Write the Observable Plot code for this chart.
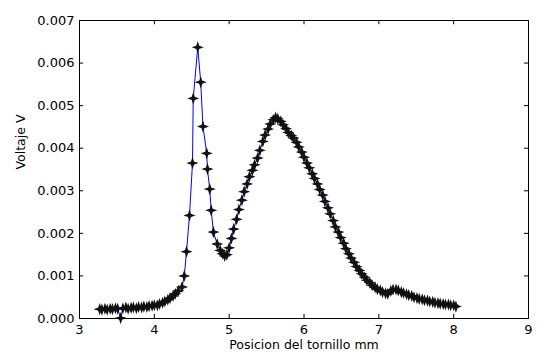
<!DOCTYPE html>
<html>
<head>
<meta charset="utf-8">
<script src="https://cdn.jsdelivr.net/npm/d3@7"></script>
<script src="https://cdn.jsdelivr.net/npm/@observablehq/plot@0.6"></script>
<style>
  html, body { margin: 0; padding: 0; background: #fff; }
  #chart svg { display: block; }
</style>
</head>
<body>
<div id="chart"></div>
<script>
const posicion = [
  3.27,3.30,3.34,3.37,3.41,3.44,3.48,3.51,3.55,3.58,
  3.62,3.65,3.69,3.72,3.76,3.79,3.83,3.86,3.90,3.93,
  3.97,4.00,4.04,4.07,4.11,4.14,4.18,4.21,4.25,4.28,
  4.32,4.37,4.40,4.43,4.47,4.51,4.52,4.58,4.62,4.65,
  4.70,4.71,4.74,4.76,4.79,4.84,4.88,4.91,4.94,4.97,
  5.00,5.03,5.06,5.10,5.13,5.17,5.20,5.24,5.27,5.31,
  5.34,5.38,5.41,5.45,5.48,5.52,5.55,5.59,5.62,5.65,
  5.69,5.72,5.76,5.79,5.83,5.86,5.90,5.93,5.97,6.00,
  6.04,6.07,6.11,6.14,6.18,6.21,6.25,6.28,6.32,6.35,
  6.39,6.42,6.46,6.49,6.53,6.56,6.60,6.63,6.67,6.70,
  6.74,6.77,6.81,6.84,6.88,6.91,6.95,6.98,7.02,7.05,
  7.09,7.12,7.16,7.19,7.23,7.26,7.30,7.33,7.37,7.40,
  7.44,7.47,7.51,7.54,7.58,7.61,7.65,7.68,7.72,7.75,
  7.79,7.82,7.86,7.89,7.93,7.96,8.00,8.03
];
const voltaje = [
  0.00022,0.00021,0.00023,0.00021,0.00023,0.00022,0.00024,0.00023,0.00001,0.00024,
  0.00026,0.00023,0.00025,0.00026,0.00024,0.00027,0.00026,0.00028,0.00027,0.00029,
  0.00030,0.00031,0.00031,0.00034,0.00037,0.00040,0.00044,0.00048,0.00053,0.00058,
  0.00065,0.00074,0.00100,0.00157,0.00242,0.00365,0.00517,0.00637,0.00555,0.00451,
  0.00388,0.00351,0.00304,0.00254,0.00203,0.00175,0.00160,0.00152,0.00147,0.00150,
  0.00166,0.00188,0.00210,0.00233,0.00256,0.00278,0.00298,0.00316,0.00333,0.00348,
  0.00361,0.00377,0.00395,0.00416,0.00431,0.00445,0.00457,0.00467,0.00472,0.00469,
  0.00463,0.00455,0.00446,0.00437,0.00430,0.00424,0.00414,0.00403,0.00391,0.00379,
  0.00365,0.00354,0.00340,0.00329,0.00316,0.00303,0.00290,0.00275,0.00260,0.00246,
  0.00230,0.00215,0.00203,0.00190,0.00177,0.00164,0.00152,0.00142,0.00132,0.00122,
  0.00113,0.00105,0.00097,0.00090,0.00084,0.00078,0.00073,0.00069,0.00066,0.00062,
  0.00059,0.00058,0.00065,0.00068,0.00068,0.00066,0.00062,0.00060,0.00057,0.00055,
  0.00053,0.00050,0.00048,0.00046,0.00045,0.00043,0.00042,0.00040,0.00039,0.00037,
  0.00036,0.00035,0.00034,0.00033,0.00033,0.00031,0.00031,0.00028
];
const xTicks = [3, 4, 5, 6, 7, 8, 9];
const yTicks = [0, 0.001, 0.002, 0.003, 0.004, 0.005, 0.006, 0.007];
const xLabel = "Posicion del tornillo mm";
const yLabel = "Voltaje V";

const data = posicion.map((p, i) => ({p, v: voltaje[i]}));
const font = "DejaVu Sans, sans-serif";

// 4-pointed sparkle, as the low-res star markers appear
const sparkle = {
  draw(context, size) {
    const r = Math.sqrt(size / Math.PI);
    const R = r * 1.25, k = r * 0.32;
    context.moveTo(0, -R);
    context.lineTo(k, -k);
    context.lineTo(R, 0);
    context.lineTo(k, k);
    context.lineTo(0, R);
    context.lineTo(-k, k);
    context.lineTo(-R, 0);
    context.lineTo(-k, -k);
    context.closePath();
  }
};

const chart = Plot.plot({
  width: 547,
  height: 356,
  marginLeft: 79,
  marginRight: 19,
  marginTop: 20,
  marginBottom: 38,
  style: {fontFamily: font, fontSize: "12.5px", background: "#fff", color: "#000"},
  x: {domain: [3, 9]},
  y: {domain: [0, 0.007]},
  marks: [
    Plot.line(data, {x: "p", y: "v", stroke: "#0000ff", strokeWidth: 1}),
    Plot.dot(data, {x: "p", y: "v", symbol: sparkle, r: 3.5, fill: "#111", stroke: "#111", strokeWidth: 1.1}),
    Plot.ruleX(xTicks, {x: d => d, y1: 0, y2: 0.0001, stroke: "#000"}),
    Plot.ruleX(xTicks, {x: d => d, y1: 0.007, y2: 0.0069, stroke: "#000"}),
    Plot.ruleY(yTicks, {y: d => d, x1: 3, x2: 3.055, stroke: "#000"}),
    Plot.ruleY(yTicks, {y: d => d, x1: 9, x2: 8.945, stroke: "#000"}),
    Plot.frame({stroke: "#000", strokeWidth: 1}),
    Plot.axisX(xTicks, {tickSize: 0, tickPadding: 6, label: null, fontSize: 13}),
    Plot.axisY(yTicks, {tickSize: 0, tickPadding: 5, tickFormat: d3.format(".3f"), label: null, fontSize: 13}),
    Plot.text([xLabel], {frameAnchor: "bottom", dy: 30, fontSize: 12.5}),
    Plot.text([yLabel], {frameAnchor: "left", dx: -59, rotate: -90, fontSize: 12.5})
  ]
});
document.getElementById("chart").appendChild(chart);
</script>
</body>
</html>
